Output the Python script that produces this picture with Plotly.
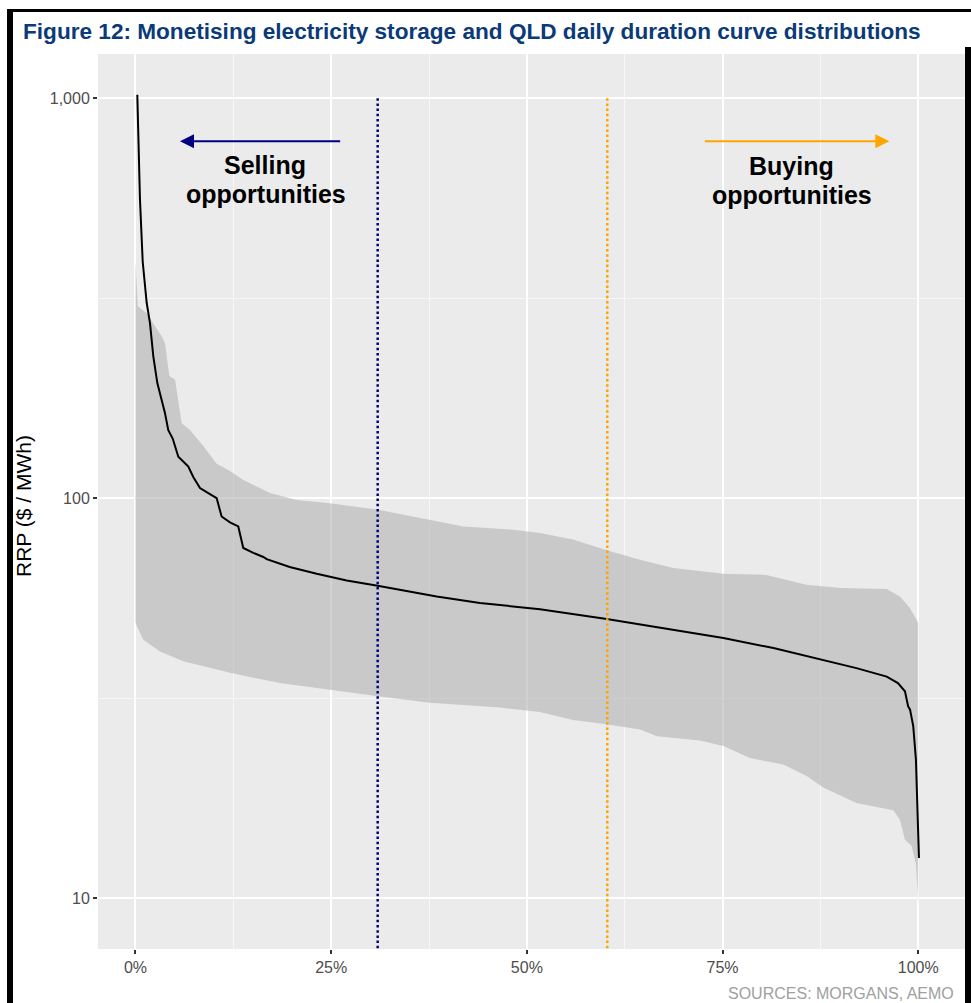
import numpy as np
import plotly.graph_objects as go

# ---------------- data ----------------
pct_line = [0.0023, 0.004, 0.0057, 0.0092, 0.0143, 0.0185, 0.0228, 0.0279, 0.0334, 0.0377, 0.0419,
            0.0475, 0.0547, 0.0675, 0.0738, 0.0824, 0.093, 0.1037, 0.110, 0.1207, 0.1313,
            0.1377, 0.1505, 0.1633, 0.1676, 0.197, 0.2315, 0.2698, 0.3094, 0.3464, 0.3848,
            0.440, 0.5167, 0.602, 0.687, 0.751, 0.815, 0.879, 0.921, 0.9597, 0.974, 0.983,
            0.987, 0.9895, 0.9936, 0.997, 0.9987, 1.0009]
rrp_median = [1020, 760, 560, 390, 308, 274, 226, 194, 176, 163, 148,
              141, 127, 120, 113, 106, 103, 100, 90, 87, 85,
              75.1, 73, 71.3, 70.4, 67.3, 64.7, 62.3, 60.4, 58.5, 56.8,
              54.7, 52.8, 49.9, 46.9, 44.7, 42.2, 39.4, 37.6, 35.8, 34.5, 32.9,
              30.2, 29.6, 26.9, 22.2, 18.0, 12.6]

pct_upper = [0.0, 0.003, 0.0143, 0.0228, 0.0334, 0.0377, 0.0432, 0.0505, 0.059, 0.0696,
             0.0866, 0.1037, 0.1207, 0.1377, 0.159, 0.1718, 0.206, 0.2485, 0.310, 0.376,
             0.419, 0.4826, 0.5167, 0.559, 0.602, 0.6445, 0.687, 0.751, 0.806, 0.857,
             0.900, 0.9597, 0.9766, 0.989, 1.0]
rrp_upper = [390, 302, 290, 274, 254, 244, 202, 198, 154, 148,
             135, 122, 117, 111, 106, 103, 99, 97.2, 93.6, 88.4,
             85, 83.4, 81.8, 78.8, 74.1, 70.2, 66.9, 64.7, 64.3, 60.8,
             59.6, 59.3, 56.8, 53.2, 48.8]

pct_lower = [0.0, 0.002, 0.01, 0.0313, 0.061, 0.1207, 0.1846, 0.2485, 0.310, 0.376,
             0.4614, 0.5167, 0.559, 0.602, 0.6445, 0.666, 0.721, 0.751, 0.785, 0.8275,
             0.8575, 0.8786, 0.921, 0.968, 0.9766, 0.983, 0.9915, 0.997, 1.0]
rrp_lower = [49, 47.8, 44.3, 41.4, 39.1, 36.6, 34.5, 33.2, 32.0, 30.8,
             30.0, 29.2, 27.9, 27.2, 26.4, 25.4, 24.8, 24.0, 22.4, 21.6,
             20.2, 18.9, 17.3, 16.6, 15.7, 14.0, 13.5, 12.2, 9.6]

sell_cutoff = 0.3094
buy_cutoff = 0.6027
x_tick_vals = [0, 0.25, 0.5, 0.75, 1.0]
x_tick_text = ["0%", "25%", "50%", "75%", "100%"]
y_tick_vals = [10, 100, 1000]
y_tick_text = ["10", "100", "1,000"]

title_text = "Figure 12: Monetising electricity storage and QLD daily duration curve distributions"
source_text = "SOURCES: MORGANS, AEMO"

# ---------------- layout geometry ----------------
W, H = 971, 1003
ML, MR, MT, MB = 98, 6, 54, 54
PW, PH = W - ML - MR, H - MT - MB


def px(x):
    return (x - ML) / PW


def py(y):
    return (H - MB - y) / PH


FONT = "Liberation Sans, Arial, sans-serif"

fig = go.Figure()

# band
band_x = list(pct_upper) + list(pct_lower[::-1])
band_y = list(rrp_upper) + list(rrp_lower[::-1])
fig.add_trace(go.Scatter(x=band_x, y=band_y, fill="toself", mode="lines",
                         line=dict(width=0), fillcolor="rgba(179,179,179,0.6)",
                         hoverinfo="skip", showlegend=False))

# median line
fig.add_trace(go.Scatter(x=pct_line, y=rrp_median, mode="lines",
                         line=dict(color="black", width=2), showlegend=False))

# cutoffs
fig.add_trace(go.Scatter(x=[sell_cutoff, sell_cutoff], y=[1000, 5], mode="lines",
                         line=dict(color="#000080", width=2.5, dash="2.5px,2.7px"), showlegend=False))
fig.add_trace(go.Scatter(x=[buy_cutoff, buy_cutoff], y=[1000, 5], mode="lines",
                         line=dict(color="#FFA500", width=2.5, dash="2.5px,2.7px"), showlegend=False))

arrow_y = np.log10(780)
ann_font = dict(family=FONT, size=25, color="black")
annotations = [
    dict(x=0.0569, y=arrow_y, ax=0.2634, ay=arrow_y, xref="x", yref="y", axref="x", ayref="y",
         text="", showarrow=True, arrowhead=2, arrowsize=1.4, arrowwidth=2, arrowcolor="#000080",
         standoff=0, startstandoff=0),
    dict(x=0.963, y=arrow_y, ax=0.7254, ay=arrow_y, xref="x", yref="y", axref="x", ayref="y",
         text="", showarrow=True, arrowhead=2, arrowsize=1.4, arrowwidth=2, arrowcolor="#FFA500",
         standoff=0, startstandoff=0),
    dict(x=px(265), y=py(165), xref="paper", yref="paper", text="<b>Selling</b>",
         showarrow=False, font=ann_font, xanchor="center", yanchor="middle"),
    dict(x=px(265.5), y=py(194), xref="paper", yref="paper", text="<b>opportunities</b>",
         showarrow=False, font=ann_font, xanchor="center", yanchor="middle"),
    dict(x=px(791), y=py(166), xref="paper", yref="paper", text="<b>Buying</b>",
         showarrow=False, font=ann_font, xanchor="center", yanchor="middle"),
    dict(x=px(792), y=py(195), xref="paper", yref="paper", text="<b>opportunities</b>",
         showarrow=False, font=ann_font, xanchor="center", yanchor="middle"),
    dict(x=px(21), y=py(31), xref="paper", yref="paper", text="<b>" + title_text + "</b>",
         showarrow=False, font=dict(family="Liberation Sans Narrow, Arial Narrow, " + FONT, size=22.6,
                                    color="#0A3A78"),
         xanchor="left", yanchor="middle"),
    dict(x=px(23), y=py(506), xref="paper", yref="paper", text="RRP ($ / MWh)", textangle=-90,
         showarrow=False, font=dict(family=FONT, size=21, color="black"), xanchor="center",
         yanchor="middle"),
    dict(x=px(956), y=py(993), xref="paper", yref="paper", text=source_text,
         showarrow=False, font=dict(family=FONT, size=16, color="#A0A0A0"), xanchor="right",
         yanchor="middle"),
]

shapes = [
    # frame
    dict(type="rect", xref="paper", yref="paper", x0=px(7), x1=px(13), y0=py(1003), y1=py(9),
         fillcolor="black", line=dict(width=0), layer="above"),
    dict(type="rect", xref="paper", yref="paper", x0=px(7), x1=px(971), y0=py(12), y1=py(9),
         fillcolor="black", line=dict(width=0), layer="above"),
    dict(type="rect", xref="paper", yref="paper", x0=px(965), x1=px(971), y0=py(1003), y1=py(47),
         fillcolor="black", line=dict(width=0), layer="above"),
]

fig.update_layout(
    width=W, height=H,
    margin=dict(l=ML, r=MR, t=MT, b=MB),
    paper_bgcolor="white", plot_bgcolor="#EBEBEB",
    showlegend=False,
    annotations=annotations,
    shapes=shapes,
    xaxis=dict(range=[-0.0479, 1.0597], tickvals=x_tick_vals, ticktext=x_tick_text,
               showgrid=True, gridcolor="white", gridwidth=2, zeroline=False,
               ticks="outside", ticklen=4, tickwidth=1.5, tickcolor="#333333",
               tickfont=dict(family=FONT, size=16, color="#4D4D4D"),
               minor=dict(tickvals=[0.125, 0.375, 0.625, 0.875], showgrid=True,
                          gridcolor="#F7F7F7", gridwidth=1, ticks=""),
               showline=False),
    yaxis=dict(type="log", range=[0.873, 3.1105], tickvals=y_tick_vals, ticktext=y_tick_text,
               showgrid=True, gridcolor="white", gridwidth=2, zeroline=False,
               ticks="outside", ticklen=4, tickwidth=1.5, tickcolor="#333333",
               tickfont=dict(family=FONT, size=16, color="#4D4D4D"),
               minor=dict(tickvals=[10 ** 1.5, 10 ** 2.5], showgrid=True,
                          gridcolor="#F7F7F7", gridwidth=1, ticks=""),
               showline=False),
)

fig.write_html("out.html", config={"displayModeBar": False},
               post_script="document.body.style.margin='0px';document.body.style.overflow='hidden';")
